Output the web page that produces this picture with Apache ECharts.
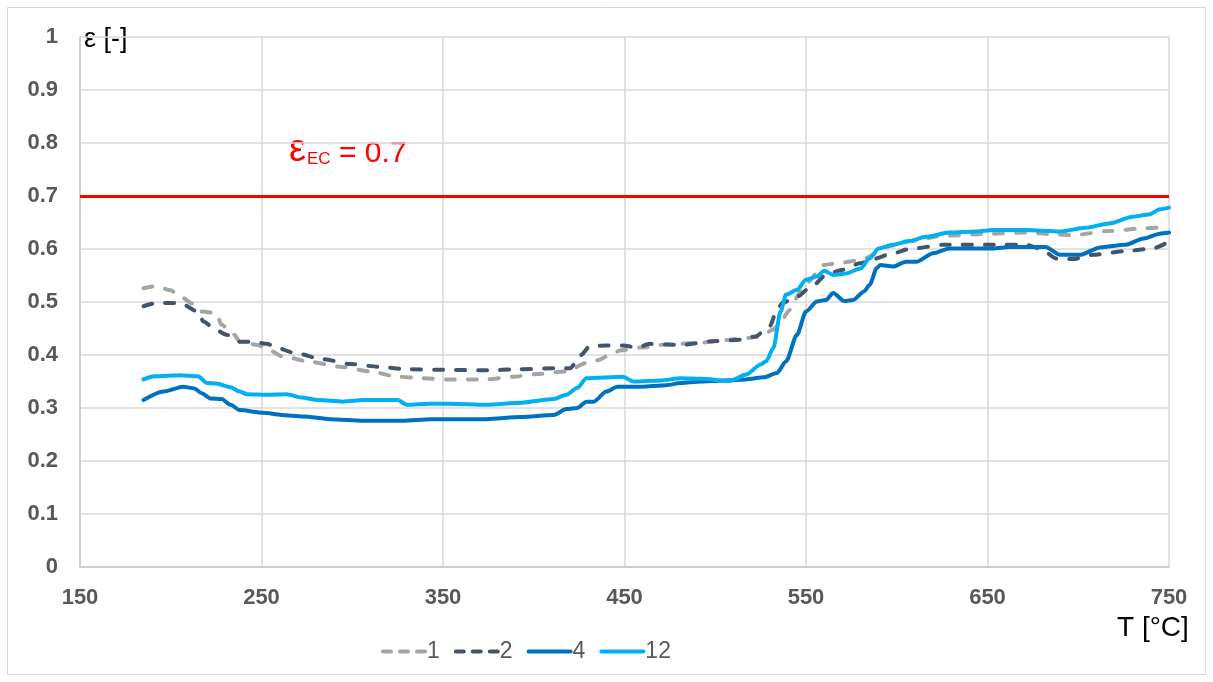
<!DOCTYPE html>
<html>
<head>
<meta charset="utf-8">
<script src="https://cdn.jsdelivr.net/npm/echarts@6/dist/echarts.min.js"></script>
<style>html,body{margin:0;padding:0;background:#fff}#c{width:1213px;height:682px}</style>
</head>
<body>
<div id="c"></div>
<script>
const xTicks = [150, 250, 350, 450, 550, 650, 750];
const yTicks = [0, 0.1, 0.2, 0.3, 0.4, 0.5, 0.6, 0.7, 0.8, 0.9, 1];
const seriesNames = ['1', '2', '4', '12'];
const limitValue = 0.7;

const t1 = [185,192,200,205,212,217,225,228,235,238,248,253,262,277,293,310,325,339,352,374,389,402,418,429,435,442,448,459,473,492,499,517,525,532,536,541,547,550,560,567,580,591,594,607,626,653,671,686,697,717,736,750];
const e1 = [0.526,0.530,0.522,0.511,0.497,0.482,0.479,0.457,0.438,0.425,0.419,0.411,0.397,0.387,0.378,0.369,0.359,0.356,0.354,0.354,0.359,0.364,0.369,0.385,0.390,0.400,0.409,0.414,0.420,0.423,0.426,0.432,0.435,0.448,0.463,0.485,0.520,0.535,0.570,0.573,0.579,0.595,0.604,0.615,0.625,0.629,0.631,0.628,0.626,0.634,0.639,0.642];

const t2 = [185,192,205,215,218,225,231,238,246,253,259,268,284,299,314,330,350,374,391,411,420,426,431,440,449,457,464,481,499,514,522,530,534,537,545,554,561,569,580,587,598,607,626,653,671,679,688,697,708,726,741,750];
const e2 = [0.492,0.498,0.498,0.482,0.463,0.447,0.438,0.425,0.425,0.421,0.413,0.404,0.392,0.383,0.378,0.373,0.372,0.371,0.373,0.375,0.375,0.400,0.417,0.418,0.418,0.414,0.421,0.419,0.426,0.429,0.435,0.454,0.485,0.498,0.510,0.532,0.551,0.560,0.573,0.581,0.592,0.600,0.608,0.608,0.608,0.601,0.582,0.581,0.589,0.596,0.601,0.614];

const t4 = [185,196,207,213,217,222,228,233,238,251,261,273,288,306,328,343,354,374,393,411,418,424,429,433,440,446,459,473,481,492,499,517,527,534,539,545,550,556,561,565,571,576,582,585,589,591,598,605,611,620,629,653,662,682,690,701,712,726,736,745,750];
const e4 = [0.315,0.331,0.340,0.337,0.328,0.318,0.317,0.306,0.296,0.291,0.287,0.284,0.279,0.276,0.276,0.279,0.279,0.279,0.283,0.287,0.298,0.300,0.312,0.312,0.331,0.340,0.340,0.343,0.347,0.350,0.351,0.354,0.358,0.366,0.388,0.438,0.482,0.501,0.504,0.517,0.502,0.504,0.520,0.532,0.564,0.570,0.567,0.576,0.576,0.592,0.601,0.601,0.604,0.604,0.589,0.589,0.603,0.608,0.620,0.629,0.631];

const t12 = [185,191,205,215,220,225,233,238,242,253,264,272,281,295,306,325,330,343,354,374,393,411,418,424,429,449,455,470,481,492,508,517,525,528,532,536,539,545,550,556,560,565,572,580,585,590,598,607,616,629,644,653,671,690,704,717,730,739,745,750];
const e12 = [0.354,0.360,0.362,0.360,0.347,0.346,0.339,0.331,0.326,0.325,0.326,0.320,0.315,0.312,0.315,0.315,0.306,0.308,0.308,0.306,0.310,0.317,0.325,0.338,0.356,0.359,0.350,0.352,0.356,0.355,0.351,0.363,0.382,0.388,0.413,0.482,0.514,0.523,0.542,0.548,0.559,0.551,0.554,0.563,0.582,0.601,0.608,0.615,0.623,0.631,0.633,0.636,0.636,0.633,0.640,0.648,0.661,0.665,0.675,0.678];

const pair = (xs, ys) => xs.map((x, i) => [x, ys[i]]);
const tickFont = 'Liberation Sans, Arial, sans-serif';

const chart = echarts.init(document.getElementById('c'), null, {renderer: 'canvas'});
const lineSeries = (name, xs, ys, color, type) => ({
  name, type: 'line', data: pair(xs, ys), showSymbol: false, symbol: 'none',
  smooth: 0.25, smoothMonotone: 'x',
  lineStyle: {color, width: 4, type: type === 'dashed' ? [9, 13] : 'solid', cap: 'round', join: 'round'},
  itemStyle: {color}, animation: false, z: 3
});

chart.setOption({
  animation: false,
  backgroundColor: '#fff',
  grid: {left: 80, right: 44, top: 37, bottom: 115, containLabel: false},
  xAxis: {
    type: 'value', min: 150, max: 750, interval: 100,
    axisLine: {show: true, lineStyle: {color: '#c8c8c8', width: 1.5}},
    axisTick: {show: false},
    splitLine: {show: true, lineStyle: {color: '#d9d9d9', width: 1.5}},
    axisLabel: {margin: 20, fontSize: 22, fontWeight: 'bold', color: '#595959', fontFamily: tickFont,
      formatter: v => xTicks.includes(v) ? String(v) : ''}
  },
  yAxis: {
    type: 'value', min: 0, max: 1, interval: 0.1,
    axisLine: {show: true, lineStyle: {color: '#c8c8c8', width: 1.5}},
    axisTick: {show: false},
    splitLine: {show: true, lineStyle: {color: '#d9d9d9', width: 1.5}},
    axisLabel: {margin: 22, fontSize: 22, fontWeight: 'bold', color: '#595959', fontFamily: tickFont,
      formatter: v => { const t = yTicks.find(k => Math.abs(k - v) < 1e-9); return t === undefined ? '' : String(t); }}
  },
  legend: {
    data: [
      {name: seriesNames[0], lineStyle: {type: [8, 9]}},
      {name: seriesNames[1], lineStyle: {type: [8, 9]}},
      {name: seriesNames[2]},
      {name: seriesNames[3]}
    ],
    left: 376, top: 635, itemWidth: 42, itemHeight: 14, itemGap: 14,
    itemStyle: {opacity: 0},
    lineStyle: {width: 4, cap: 'round'},
    textStyle: {fontSize: 23, color: '#595959', fontFamily: 'Liberation Sans Narrow, Liberation Sans, Arial, sans-serif', padding: [0, 0, 0, -3]}
  },
  series: [
    lineSeries(seriesNames[0], t1, e1, '#a5a5a5', 'dashed'),
    lineSeries(seriesNames[1], t2, e2, '#44546a', 'dashed'),
    lineSeries(seriesNames[2], t4, e4, '#0070c0', 'solid'),
    Object.assign(lineSeries(seriesNames[3], t12, e12, '#00b0f0', 'solid'), {
      markLine: {silent: true, symbol: 'none', label: {show: false},
        lineStyle: {color: '#ff0000', width: 3, type: 'solid'},
        data: [{yAxis: limitValue}], animation: false}
    })
  ],
  graphic: [
    {type: 'rect', shape: {x: 7.5, y: 7.5, width: 1198, height: 667}, style: {fill: 'none', stroke: '#d9d9d9', lineWidth: 1}, silent: true, z: 0},
    {type: 'text', x: 84, y: 26, style: {text: 'ε [-]', fontSize: 27, fill: '#000', fontFamily: 'Liberation Sans, Arial, sans-serif'}},
    {type: 'text', x: 1117, y: 614, style: {text: 'T [°C]', fontSize: 28, fill: '#000', fontFamily: 'Liberation Sans, Arial, sans-serif'}},
    {type: 'text', x: 289, y: 132, style: {
      text: '{e|ε}{s|EC}{n| = 0.7}', fill: '#ff0000', fontFamily: 'Liberation Sans, Arial, sans-serif',
      rich: {
        e: {fontSize: 38, fill: '#ff0000', fontFamily: 'Liberation Sans, Arial, sans-serif', verticalAlign: 'bottom'},
        s: {fontSize: 17, fill: '#ff0000', fontFamily: 'Liberation Sans, Arial, sans-serif', verticalAlign: 'bottom', padding: [0, 0, 2, 1]},
        n: {fontSize: 30, fill: '#ff0000', fontFamily: 'Liberation Sans, Arial, sans-serif', verticalAlign: 'bottom', padding: [0, 0, 1, 0]}
      }}}
  ]
});
</script>
</body>
</html>
